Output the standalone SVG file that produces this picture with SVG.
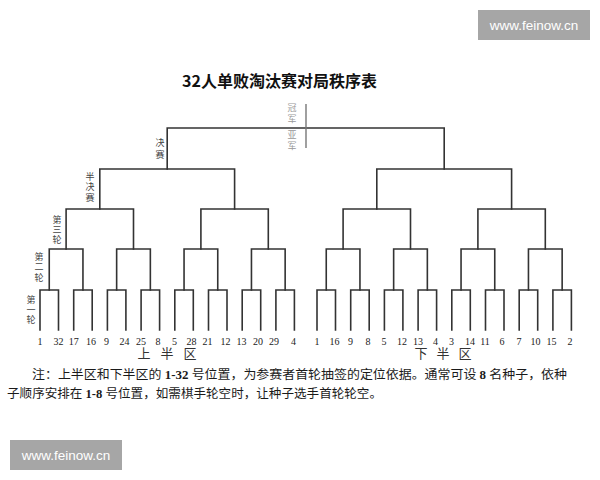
<svg xmlns="http://www.w3.org/2000/svg" width="600" height="480" viewBox="0 0 600 480">
<style>
.ln{fill:none;stroke:#333;stroke-width:1.6;stroke-linecap:square}
.num{font-family:"Liberation Serif","Noto Sans CJK SC",serif;font-size:10px;fill:#222;text-anchor:middle}
.lab{font-family:"Noto Sans CJK SC",sans-serif;font-size:9px;fill:#444;writing-mode:vertical-rl}
.cg{font-family:"Noto Sans CJK SC",sans-serif;font-size:9px;fill:#999;writing-mode:vertical-rl;letter-spacing:2.5px}
.half{font-family:"Liberation Serif","Noto Sans CJK SC",serif;font-size:13px;fill:#333;text-anchor:middle}
.note{font-family:"Liberation Serif","Noto Sans CJK SC",serif;font-size:12.5px;fill:#1a1a1a}
.wm{fill:#a6a6a6}
.wmt{font-family:"Liberation Sans",Arial,sans-serif;font-size:13.5px;fill:#fff;text-anchor:middle}
</style>
<rect width="600" height="480" fill="#fff"/>
<g id="watermark-top"><rect class="wm" x="478" y="10" width="112" height="30"/><text class="wmt" x="534" y="30">www.feinow.cn</text></g>
<g id="title"><text x="182" y="87" font-family="'Noto Sans CJK SC',sans-serif" font-size="16" font-weight="bold" fill="#111">32人单败淘汰赛对局秩序表</text></g>
<g id="connectors">
<path class="ln" d="M40 330V290H58.5V330M73.7 330V290H92.2V330M107.4 330V290H125.9V330M141.1 330V290H159.6V330M174.8 330V290H193.3V330M208.5 330V290H227V330M242.2 330V290H260.7V330M275.9 330V290H294.4V330"/>
<path class="ln" d="M317 330V290H335.5V330M350.7 330V290H369.2V330M384.4 330V290H402.9V330M418.1 330V290H436.6V330M451.8 330V290H470.3V330M485.5 330V290H504V330M519.2 330V290H537.7V330M552.9 330V290H571.4V330"/>
<path class="ln" d="M49.25 290V249H82.95V290M116.65 290V249H150.35V290M184.05 290V249H217.75V290M251.45 290V249H285.15V290"/>
<path class="ln" d="M326.25 290V249H359.95V290M393.65 290V249H427.35V290M461.05 290V249H494.75V290M528.45 290V249H562.15V290"/>
<path class="ln" d="M66.1 249V209H133.5V249M200.9 249V209H268.3V249M343.1 249V209H410.5V249M477.9 249V209H545.3V249"/>
<path class="ln" d="M99.8 209V169H234.6V209M376.8 209V169H511.6V209"/>
<path class="ln" d="M167.2 169V128H444.2V169"/>
<path d="M306 104V148" stroke="#777" stroke-width="1.4"/>
</g>
<g id="champion"><text class="cg" x="292" y="103">冠军</text><text class="cg" x="292" y="130">亚军</text></g>
<g id="label-final"><text class="lab" x="160" y="138" letter-spacing="3">决赛</text></g>
<g id="label-semi"><text class="lab" x="90" y="172" letter-spacing="1.5">半决赛</text></g>
<g id="label-r3"><text class="lab" x="57" y="215" letter-spacing="1">第三轮</text></g>
<g id="label-r2"><text class="lab" x="39" y="252" letter-spacing="1.5">第二轮</text></g>
<g id="label-r1"><text class="lab" x="31" y="295" letter-spacing="1">第一轮</text></g>
<g id="seeds-top"><text class="num" y="345"><tspan x="40">1</tspan><tspan x="58.5">32</tspan><tspan x="73.7">17</tspan><tspan x="91">16</tspan><tspan x="106.5">9</tspan><tspan x="124.5">24</tspan><tspan x="141">25</tspan><tspan x="158">8</tspan><tspan x="174.5">5</tspan><tspan x="191.5">28</tspan><tspan x="207.5">21</tspan><tspan x="225.5">12</tspan><tspan x="241.5">13</tspan><tspan x="258">20</tspan><tspan x="274">29</tspan><tspan x="293.5">4</tspan></text>
<text class="half" y="358" x="144 167 190">上半区</text></g>
<g id="seeds-bottom"><text class="num" y="345"><tspan x="317">1</tspan><tspan x="334.5">16</tspan><tspan x="350.5">9</tspan><tspan x="368">8</tspan><tspan x="384">5</tspan><tspan x="402">12</tspan><tspan x="418">13</tspan><tspan x="435.5">4</tspan><tspan x="451.5">3</tspan><tspan x="470">14</tspan><tspan x="485">11</tspan><tspan x="502">6</tspan><tspan x="519">7</tspan><tspan x="535.5">10</tspan><tspan x="551.5">15</tspan><tspan x="570">2</tspan></text>
<text class="half" y="358" x="421 443 465">下半区</text></g>
<g id="note">
<text class="note" x="32" y="379" textLength="535" lengthAdjust="spacingAndGlyphs">注：上半区和下半区的 <tspan font-weight="bold">1-32</tspan> 号位置，为参赛者首轮抽签的定位依据。通常可设 <tspan font-weight="bold">8</tspan> 名种子，依种</text>
<text class="note" x="7" y="398" textLength="375" lengthAdjust="spacingAndGlyphs">子顺序安排在 <tspan font-weight="bold">1-8</tspan> 号位置，如需棋手轮空时，让种子选手首轮轮空。</text>
</g>
<g id="watermark-bottom"><rect class="wm" x="10" y="440" width="112" height="30"/><text class="wmt" x="66" y="460">www.feinow.cn</text></g>
</svg>
